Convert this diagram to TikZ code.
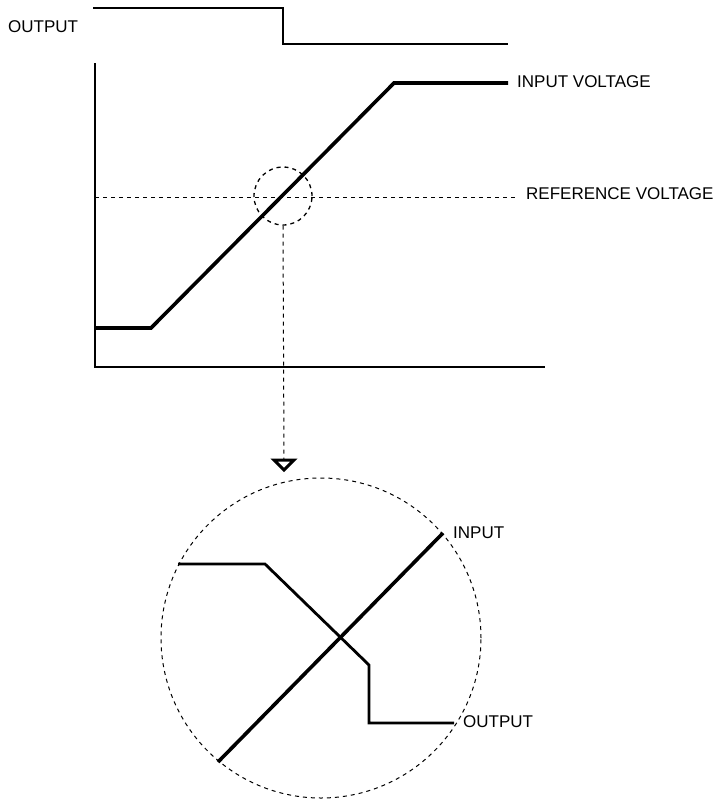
\documentclass[tikz,border=0pt]{standalone}
\usepackage{fontspec}
\setmainfont{Liberation Sans}
\begin{document}
\begin{tikzpicture}[x=1pt,y=-1pt,
  lbl/.style={anchor=west,inner sep=0pt,font=\fontsize{17}{20}\selectfont},
  sig/.style={line width=2.8pt,line join=miter},
  thick sig/.style={line width=3.6pt,line join=miter},
  axis/.style={line width=2.6pt},
  dsh/.style={line width=1pt,dash pattern=on 4pt off 4pt}]
\useasboundingbox (0,0) rectangle (718,801);
% top output signal
\coordinate (o1) at (93,8);
\coordinate (o2) at (283,8);
\coordinate (o3) at (283,44);
\coordinate (o4) at (508,44);
\draw[sig] (o1) -- (o2) -- (o3) -- (o4);
\node[lbl] (outlbl) at (8,27) {OUTPUT};
% axes
\coordinate (ytop) at (95,63);
\coordinate (orig) at (95,367);
\coordinate (xend) at (545,367);
\draw[axis] (ytop) -- (orig) -- (xend);
% input voltage
\coordinate (i1) at (95,328);
\coordinate (i2) at (151,328);
\coordinate (i3) at (394,83);
\coordinate (i4) at (508,83);
\draw[thick sig] (i1) -- (i2) -- (i3) -- (i4);
\node[lbl] (inlbl) at (517,82) {INPUT VOLTAGE};
% reference
\coordinate (r1) at (95,197);
\coordinate (r2) at (517,197);
\draw[dsh] (r1) -- (r2);
\node[lbl] (reflbl) at (526,194) {REFERENCE VOLTAGE};
% small circle
\node[draw,dsh,line width=1.3pt,circle,minimum size=58pt,inner sep=0pt] (sc) at (283,196) {};
% arrow
\coordinate (tip) at (284,470);
\coordinate (tl) at (274,460);
\coordinate (tr) at (294,460);
\coordinate (tb) at (284,460);
\draw[dsh] (sc.south) -- (tb);
\draw[line width=3pt,fill=white,line join=miter] (tl) -- (tr) -- (tip) -- cycle;
% big circle
\node[draw,dsh,circle,minimum size=320pt,inner sep=0pt] (bc) at (321,638) {};
% zoomed input
\coordinate (zi1) at (218,762);
\coordinate (zi2) at (443,533);
\draw[thick sig] (zi1) -- (zi2);
\node[lbl] (zinlbl) at (453,533) {INPUT};
% zoomed output
\coordinate (zo1) at (178,564);
\coordinate (zo2) at (265,564);
\coordinate (zo3) at (369,665);
\coordinate (zo4) at (369,723);
\coordinate (zo5) at (454,723);
\draw[sig] (zo1) -- (zo2) -- (zo3) -- (zo4) -- (zo5);
\node[lbl] (zoutlbl) at (463,722) {OUTPUT};
\end{tikzpicture}
\end{document}
